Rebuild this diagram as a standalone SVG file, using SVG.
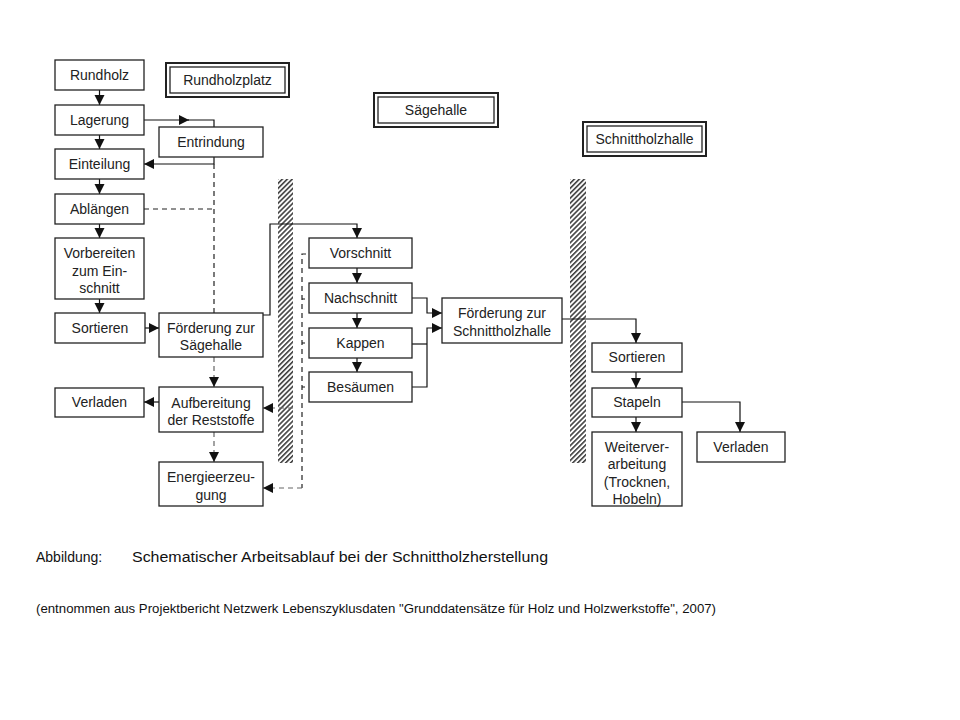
<svg xmlns="http://www.w3.org/2000/svg" width="960" height="720" viewBox="0 0 960 720">
<defs>
<marker id="ah" markerUnits="userSpaceOnUse" markerWidth="11" markerHeight="11" refX="10" refY="5" orient="auto"><path d="M0,0 L10,5 L0,10 z" fill="#111"/></marker>
<pattern id="hatch" patternUnits="userSpaceOnUse" width="3.5" height="3.5" patternTransform="rotate(45)"><rect width="3.5" height="3.5" fill="#fff"/><line x1="0.8" y1="0" x2="0.8" y2="3.5" stroke="#333" stroke-width="1.5"/></pattern>
<style>
.box{fill:#fff;stroke:#222;stroke-width:1.3}
.dbo{fill:#fff;stroke:#222;stroke-width:2}
.dbi{fill:none;stroke:#222;stroke-width:1.3}
.t{font-family:"Liberation Sans",Arial,sans-serif;font-size:14px;fill:#222;text-anchor:middle}
.c{fill:none;stroke:#111;stroke-width:1.2}
.d{fill:none;stroke:#222;stroke-width:1.2;stroke-dasharray:5,4}
.dg{fill:none;stroke:#666;stroke-width:1.2;stroke-dasharray:5,4}
.cap{font-family:"Liberation Sans",Arial,sans-serif;fill:#111}
</style>
</defs>
<rect width="960" height="720" fill="#fff"/>

<g id="hatches">
<rect x="278" y="179" width="15" height="284" fill="url(#hatch)"/>
<rect x="570" y="179" width="16" height="284" fill="url(#hatch)"/>
</g>

<g id="connectors">
<path class="c" d="M99.5,90 V105" marker-end="url(#ah)"/>
<path class="c" d="M99.5,135 V149" marker-end="url(#ah)"/>
<path class="c" d="M99.5,179 V194" marker-end="url(#ah)"/>
<path class="c" d="M99.5,224 V238" marker-end="url(#ah)"/>
<path class="c" d="M99.5,299 V313" marker-end="url(#ah)"/>
<path class="c" d="M144,120 H189" marker-end="url(#ah)"/>
<path class="c" d="M188,120 H214 V127"/>
<path class="c" d="M214,157 V164 H144" marker-end="url(#ah)"/>
<path class="d" d="M214,164 V313"/>
<path class="d" d="M144,209 H214"/>
<path class="c" d="M145,328 H159" marker-end="url(#ah)"/>
<path class="c" d="M263,315 H270 V224 H357 V238" marker-end="url(#ah)"/>
<path class="dg" d="M214,357 V387" marker-end="url(#ah)"/>
<path class="c" d="M159,402 H144" marker-end="url(#ah)"/>
<path class="dg" d="M214,432 V462" marker-end="url(#ah)"/>
<path class="dg" d="M293,408 H263" marker-end="url(#ah)"/>
<path class="d" d="M306,254 H302 V488"/>
<path class="dg" d="M302,488 H263" marker-end="url(#ah)"/>
<path class="c" d="M302,299 H305 M302,343 H305 M302,387 H305" stroke="#333"/>
<path class="c" d="M357,268 V283" marker-end="url(#ah)"/>
<path class="c" d="M357,313 V328" marker-end="url(#ah)"/>
<path class="c" d="M357,358 V372" marker-end="url(#ah)"/>
<path class="c" d="M412,298 H427 V313 H442" marker-end="url(#ah)"/>
<path class="c" d="M412,344 H427"/>
<path class="c" d="M412,387 H427 V328 H442" marker-end="url(#ah)"/>
<path class="c" d="M562,319 H636 V343" marker-end="url(#ah)"/>
<path class="c" d="M636,372 V388" marker-end="url(#ah)"/>
<path class="c" d="M636,417 V432" marker-end="url(#ah)"/>
<path class="c" d="M682,402 H740 V432" marker-end="url(#ah)"/>
</g>

<g id="rundholzplatz"><rect class="dbo" x="166" y="63" width="123" height="34"/><rect class="dbi" x="170" y="67" width="115" height="26"/><text class="t" x="227.5" y="85">Rundholzplatz</text></g>
<g id="saegehalle"><rect class="dbo" x="374" y="93" width="124" height="34"/><rect class="dbi" x="378" y="97" width="116" height="26"/><text class="t" x="436" y="115">Sägehalle</text></g>
<g id="schnittholzhalle"><rect class="dbo" x="583" y="122" width="123" height="34"/><rect class="dbi" x="587" y="126" width="115" height="26"/><text class="t" x="644.5" y="144">Schnittholzhalle</text></g>

<g id="rundholz"><rect class="box" x="55" y="60" width="89" height="30"/><text class="t" x="99.5" y="80">Rundholz</text></g>
<g id="lagerung"><rect class="box" x="55" y="105" width="89" height="30"/><text class="t" x="99.5" y="125">Lagerung</text></g>
<g id="entrindung"><rect class="box" x="159" y="127" width="104" height="30"/><text class="t" x="211" y="147">Entrindung</text></g>
<g id="einteilung"><rect class="box" x="55" y="149" width="89" height="30"/><text class="t" x="99.5" y="169">Einteilung</text></g>
<g id="ablaengen"><rect class="box" x="55" y="194" width="89" height="30"/><text class="t" x="99.5" y="214">Ablängen</text></g>
<g id="vorbereiten"><rect class="box" x="55" y="238" width="89" height="61"/><text class="t" x="99.5" y="258">Vorbereiten</text><text class="t" x="99.5" y="276">zum Ein-</text><text class="t" x="99.5" y="293">schnitt</text></g>
<g id="sortieren1"><rect class="box" x="55" y="313" width="90" height="30"/><text class="t" x="100" y="333">Sortieren</text></g>
<g id="foerderung1"><rect class="box" x="159" y="313" width="104" height="44"/><text class="t" x="211" y="333">Förderung zur</text><text class="t" x="211" y="350">Sägehalle</text></g>
<g id="verladen1"><rect class="box" x="55" y="388" width="89" height="29"/><text class="t" x="99.5" y="407">Verladen</text></g>
<g id="aufbereitung"><rect class="box" x="159" y="387" width="104" height="45"/><text class="t" x="211" y="408">Aufbereitung</text><text class="t" x="211" y="425">der Reststoffe</text></g>
<g id="energie"><rect class="box" x="159" y="462" width="104" height="44"/><text class="t" x="211" y="482">Energieerzeu-</text><text class="t" x="211" y="500">gung</text></g>

<g id="vorschnitt"><rect class="box" x="309" y="238" width="103" height="30"/><text class="t" x="360.5" y="258">Vorschnitt</text></g>
<g id="nachschnitt"><rect class="box" x="309" y="283" width="103" height="30"/><text class="t" x="360.5" y="303">Nachschnitt</text></g>
<g id="kappen"><rect class="box" x="309" y="328" width="103" height="30"/><text class="t" x="360.5" y="348">Kappen</text></g>
<g id="besaeumen"><rect class="box" x="309" y="372" width="103" height="30"/><text class="t" x="360.5" y="392">Besäumen</text></g>
<g id="foerderung2"><rect class="box" x="442" y="298" width="120" height="45"/><text class="t" x="502" y="318">Förderung zur</text><text class="t" x="502" y="336">Schnittholzhalle</text></g>

<g id="sortieren2"><rect class="box" x="592" y="343" width="90" height="29"/><text class="t" x="637" y="362">Sortieren</text></g>
<g id="stapeln"><rect class="box" x="592" y="388" width="90" height="29"/><text class="t" x="637" y="407">Stapeln</text></g>
<g id="weiterverarbeitung"><rect class="box" x="592" y="432" width="90" height="74"/><text class="t" x="637" y="452">Weiterver-</text><text class="t" x="637" y="469">arbeitung</text><text class="t" x="637" y="487">(Trocknen,</text><text class="t" x="637" y="504">Hobeln)</text></g>
<g id="verladen2"><rect class="box" x="697" y="432" width="88" height="30"/><text class="t" x="741" y="452">Verladen</text></g>

<g id="caption">
<text class="cap" x="36" y="562" font-size="14">Abbildung:</text>
<text class="cap" x="132" y="562" font-size="14" textLength="416" lengthAdjust="spacingAndGlyphs">Schematischer Arbeitsablauf bei der Schnittholzherstellung</text>
<text class="cap" x="36" y="613" font-size="12.5" textLength="680" lengthAdjust="spacingAndGlyphs">(entnommen aus Projektbericht Netzwerk Lebenszyklusdaten "Grunddatensätze für Holz und Holzwerkstoffe", 2007)</text>
</g>
</svg>
